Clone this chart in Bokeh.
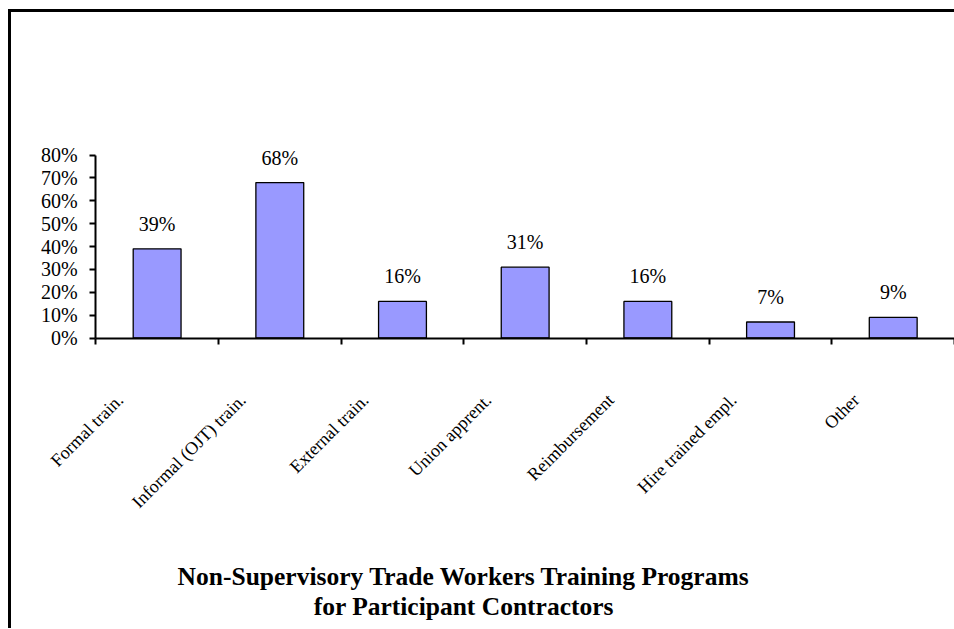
import math
from bokeh.plotting import figure
from bokeh.models import (Range1d, FixedTicker, NumeralTickFormatter, ColumnDataSource,
                          LabelSet, Label)
from bokeh.embed import file_html
from bokeh.resources import INLINE

# ---- data ----
categories = ["Formal train.", "Informal (OJT) train.", "External train.",
              "Union apprent.", "Reimbursement", "Hire trained empl.", "Other"]
values = [0.39, 0.68, 0.16, 0.31, 0.16, 0.07, 0.09]
value_labels = ["39%", "68%", "16%", "31%", "16%", "7%", "9%"]
y_ticks = [0.0, 0.1, 0.2, 0.3, 0.4, 0.5, 0.6, 0.7, 0.8]
title_lines = ["Non-Supervisory Trade Workers Training Programs",
               "for Participant Contractors"]

n = len(categories)
xs = [i + 0.5 for i in range(n)]
src = ColumnDataSource(dict(x=xs, v=values, lbl=value_labels, cat=categories,
                            base=[0.0] * n))

FONT = "Liberation Serif"

# frame covers the whole canvas; axes are pinned at 0 inside it
p = figure(width=943, height=616, output_backend="svg", toolbar_location=None,
           x_range=Range1d(-0.687, 7.024), y_range=Range1d(-1.284, 1.424),
           min_border=0)
p.title.visible = False
p.styles = {"margin-left": "8px", "margin-top": "9px", "box-sizing": "content-box",
            "overflow": "hidden",
            "border-top": "3px solid #000", "border-left": "3px solid #000",
            "border-right": "0px none", "border-bottom": "0px none"}
p.background_fill_color = "white"
p.border_fill_color = "white"
p.outline_line_color = None
p.xgrid.grid_line_color = None
p.ygrid.grid_line_color = None

p.vbar(x="x", top="v", width=0.39, source=src, fill_color="#9999FF",
       line_color="black", line_width=1.3)

# y axis
ya = p.yaxis[0]
ya.fixed_location = 0
ya.bounds = (0, 0.8)
ya.ticker = FixedTicker(ticks=y_ticks)
ya.formatter = NumeralTickFormatter(format="0%")
ya.axis_line_width = 2
ya.axis_line_color = "black"
ya.major_tick_line_width = 2
ya.major_tick_in = 0
ya.major_tick_out = 6
ya.minor_tick_line_color = None
ya.major_label_standoff = 12
ya.major_label_text_font = FONT
ya.major_label_text_font_size = "20px"
ya.major_label_text_color = "black"

# x axis (ticks at category boundaries)
xa = p.xaxis[0]
xa.fixed_location = 0
xa.bounds = (0, n)
xa.ticker = FixedTicker(ticks=list(range(n + 1)))
xa.major_label_overrides = {i: "" for i in range(n + 1)}
xa.axis_line_width = 2
xa.axis_line_color = "black"
xa.major_tick_line_width = 2
xa.major_tick_in = 0
xa.major_tick_out = 6
xa.minor_tick_line_color = None

# category labels
p.add_layout(LabelSet(x="x", y="base", text="cat", source=src, angle=math.pi / 4,
                      text_align="right", text_baseline="middle",
                      x_offset=-37, y_offset=-59, text_font=FONT,
                      text_font_size="18px", text_color="black"))

# value labels
p.add_layout(LabelSet(x="x", y="v", text="lbl", source=src, text_align="center",
                      text_baseline="alphabetic", y_offset=18, text_font=FONT,
                      text_font_size="20px", text_color="black"))

# title lines
for k, line in enumerate(title_lines):
    p.add_layout(Label(x=0, y=0, x_offset=368, y_offset=-238 - 30 * k, text=line,
                       text_align="center", text_baseline="alphabetic",
                       text_font=FONT, text_font_style="bold",
                       text_font_size="25.5px", text_color="black"))

open("out.html", "w").write(file_html(p, INLINE))
